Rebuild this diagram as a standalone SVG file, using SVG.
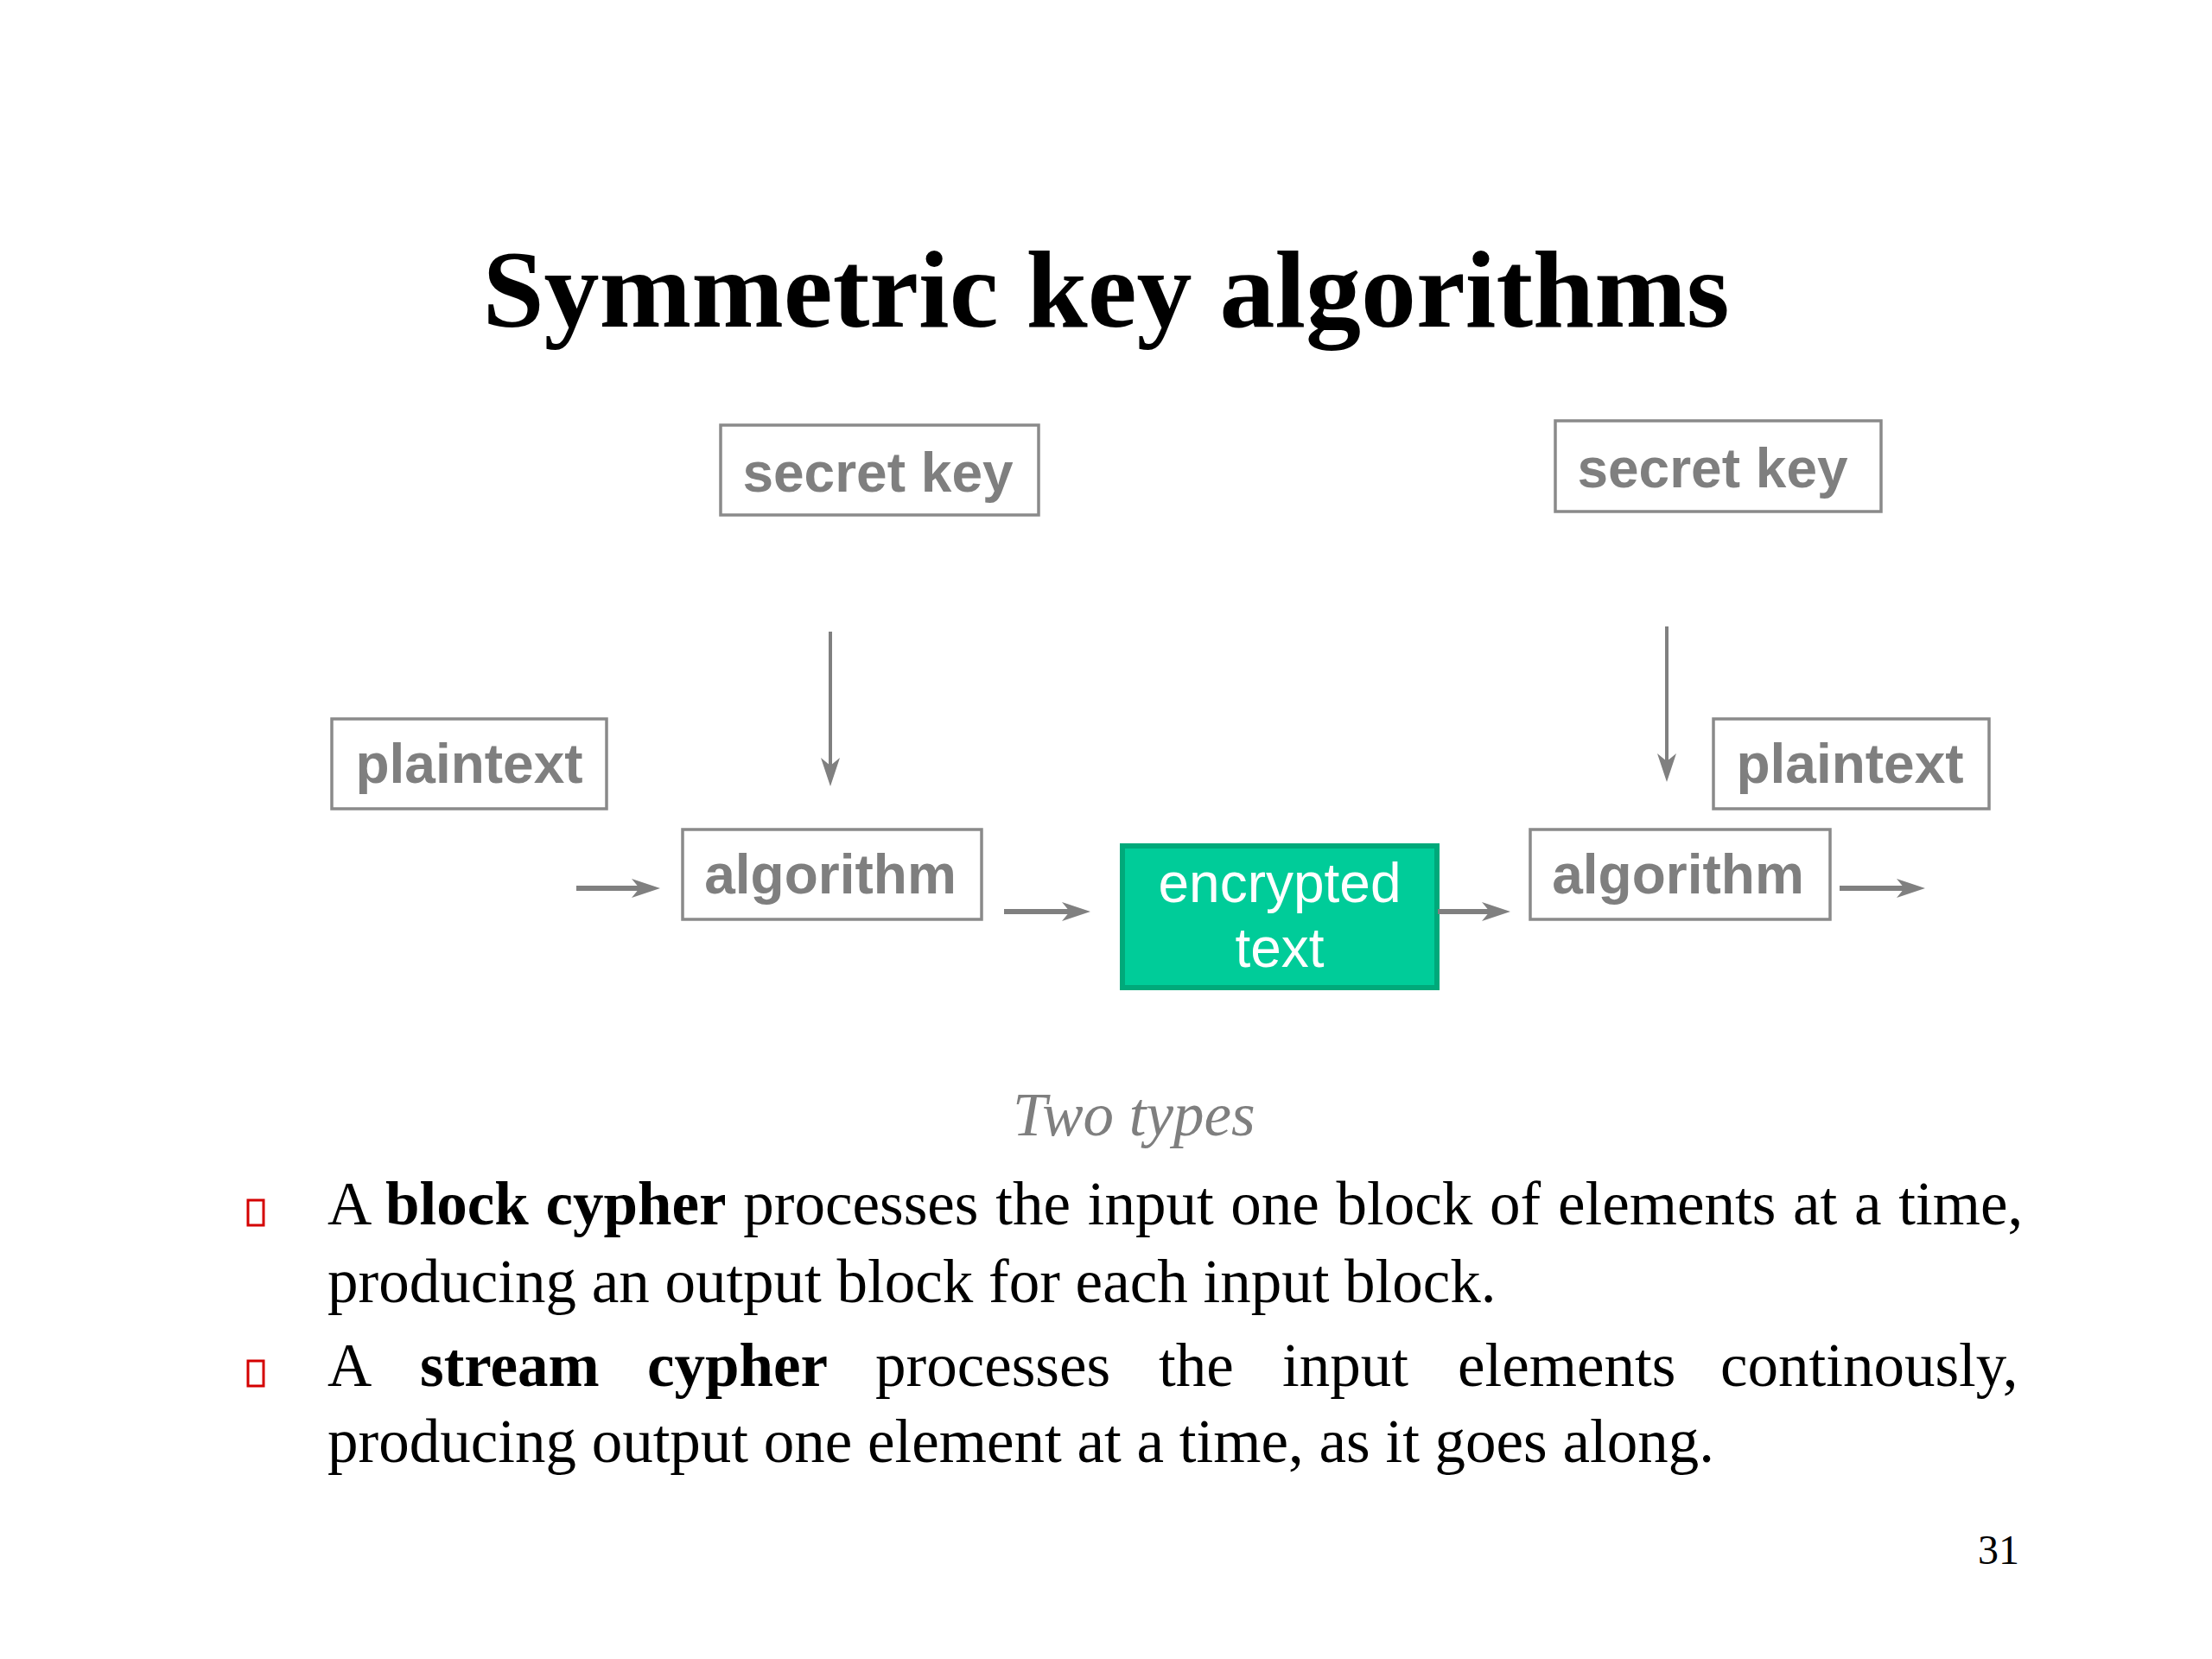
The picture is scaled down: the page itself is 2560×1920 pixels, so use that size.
<svg xmlns="http://www.w3.org/2000/svg" width="2560" height="1920" viewBox="0 0 2560 1920">
<style>
.box{fill:#ffffff;stroke:#8a8a8a;stroke-width:3.5}
.lbl{font-family:"Liberation Sans",Arial,sans-serif;font-weight:bold;font-size:64px;fill:#7f7f7f;text-anchor:middle}
.enc{fill:#00cc99;stroke:#00a97a;stroke-width:6}
.enct{font-family:"Liberation Sans",Arial,sans-serif;font-size:64px;fill:#ffffff;text-anchor:middle}
.harr{stroke:#808080;stroke-width:6;fill:none}
.varr{stroke:#808080;stroke-width:4;fill:none}
.body{font-family:"Liberation Serif","Times New Roman",serif;font-size:71px;fill:#000000}
.bul{fill:none;stroke:#d40000;stroke-width:3}
</style>
<defs>
<marker id="ah" markerUnits="userSpaceOnUse" markerWidth="36" markerHeight="24" viewBox="-14 -12 36 24" refX="0" refY="0" orient="auto">
<path d="M20,0 L-13,-11 L-4,0 L-13,11 Z" fill="#808080"/>
</marker>
</defs>
<rect width="2560" height="1920" fill="#ffffff"/>

<text id="title" x="1280" y="378" text-anchor="middle" font-family="'Liberation Serif','Times New Roman',serif" font-weight="bold" font-size="128" fill="#000000">Symmetric key algorithms</text>

<g id="secret-key-1"><rect class="box" x="834" y="492" width="368" height="104"/><text class="lbl" x="1016" y="569">secret key</text></g>
<g id="secret-key-2"><rect class="box" x="1800" y="487" width="377" height="105"/><text class="lbl" x="1982" y="564">secret key</text></g>
<g id="plaintext-1"><rect class="box" x="384" y="832" width="318" height="104"/><text class="lbl" x="543" y="906">plaintext</text></g>
<g id="plaintext-2"><rect class="box" x="1983" y="832" width="319" height="104"/><text class="lbl" x="2141" y="906">plaintext</text></g>
<g id="algorithm-1"><rect class="box" x="790" y="960" width="346" height="104"/><text class="lbl" x="961" y="1034">algorithm</text></g>
<g id="algorithm-2"><rect class="box" x="1771" y="960" width="347" height="104"/><text class="lbl" x="1942" y="1034">algorithm</text></g>
<g id="encrypted-text"><rect class="enc" x="1299" y="979" width="364" height="164"/><text class="enct" x="1481" y="1044">encrypted</text><text class="enct" x="1481" y="1119">text</text></g>

<g id="connectors">
<line class="varr" x1="961" y1="731" x2="961" y2="890" marker-end="url(#ah)"/>
<line class="varr" x1="1929" y1="725" x2="1929" y2="885" marker-end="url(#ah)"/>
<line class="harr" x1="667" y1="1028" x2="744" y2="1028" marker-end="url(#ah)"/>
<line class="harr" x1="1162" y1="1055" x2="1242" y2="1055" marker-end="url(#ah)"/>
<line class="harr" x1="1664" y1="1055" x2="1728" y2="1055" marker-end="url(#ah)"/>
<line class="harr" x1="2129" y1="1028" x2="2208" y2="1028" marker-end="url(#ah)"/>
</g>

<text id="two-types" x="1172" y="1314" font-family="'Liberation Serif','Times New Roman',serif" font-style="italic" font-size="71" fill="#7f7f7f">Two types</text>

<g id="bullets">
<rect class="bul" x="287" y="1389" width="18" height="29"/>
<rect class="bul" x="287" y="1575" width="18" height="29"/>
</g>

<g id="body-text">
<text class="body" x="379" y="1417" word-spacing="2">A <tspan font-weight="bold">block cypher</tspan> processes the input one block of elements at a time,</text>
<text class="body" x="379" y="1507">producing an output block for each input block.</text>
<text class="body" y="1604"><tspan x="379">A</tspan><tspan x="486" font-weight="bold">stream</tspan><tspan x="749" font-weight="bold">cypher</tspan><tspan x="1013">processes</tspan><tspan x="1341">the</tspan><tspan x="1484">input</tspan><tspan x="1687">elements</tspan><tspan x="1991">continously,</tspan></text>
<text class="body" x="379" y="1692">producing output one element at a time, as it goes along.</text>
</g>

<text id="page-number" x="2337" y="1810" text-anchor="end" font-family="'Liberation Serif','Times New Roman',serif" font-size="48" fill="#000000">31</text>
</svg>
